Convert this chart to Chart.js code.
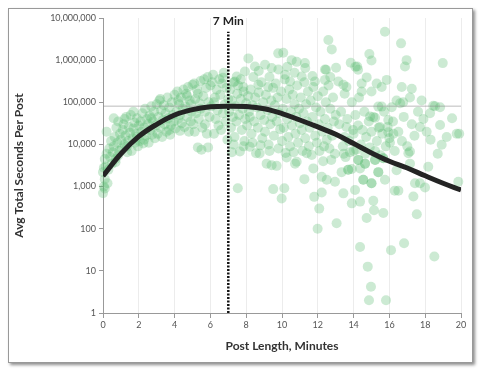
<!DOCTYPE html>
<html>
<head>
<meta charset="utf-8">
<script src="https://cdn.jsdelivr.net/npm/chart.js@4.4.1/dist/chart.umd.min.js"></script>
<style>
  body { margin: 0; background: #fff; }
  .frame {
    position: absolute; left: 8px; top: 8px; width: 463px; height: 353px;
    border: 1px solid #999; background: #fff;
    box-shadow: 2px 2px 3px rgba(0,0,0,0.45);
  }
  canvas { position: absolute; left: 0; top: 0; }
</style>
</head>
<body>
<div class="frame"></div>
<canvas id="postChart" width="484" height="371"></canvas>
<script>
// [minutes, avg total seconds]
const postPoints = [
  [0.0,700],[0.05,1000],[0.1,1500],[0.0,2200],[0.15,3000],[0.1,4500],[0.2,6000],[0.05,2800],[0.25,1200],[0.3,2500],[0.35,8000],[0.4,5000],[0.45,12000],[0.2,20000],[0.5,3500],[0.1,900],
  [0.55,6500],[0.6,9000],[0.65,15000],[0.7,4500],[0.75,25000],[0.8,11000],[0.85,35000],[0.9,7000],[0.95,18000],[0.6,42000],[0.7,3800],[1.0,13000],[0.85,5500],
  [1.05,8000],[1.1,22000],[1.15,30000],[1.2,10000],[1.25,16000],[1.3,45000],[1.35,6500],[1.4,12000],[1.45,26000],[1.5,19000],[1.2,40000],[1.35,9000],
  [1.55,50000],[1.6,7000],[1.65,14000],[1.7,24000],[1.75,33000],[1.8,11000],[1.85,18000],[1.9,42000],[1.95,9000],[2.0,28000],[1.7,60000],[1.9,15000],
  [2.05,12000],[2.1,35000],[2.15,20000],[2.2,55000],[2.25,10500],[2.3,25000],[2.35,70000],[2.4,16000],[2.45,40000],[2.5,30000],[2.3,13000],
  [2.55,11000],[2.6,48000],[2.65,22000],[2.7,80000],[2.75,17000],[2.8,35000],[2.85,60000],[2.9,14000],[2.95,28000],[3.0,90000],[2.7,42000],
  [3.05,18000],[3.1,45000],[3.15,110000],[3.2,25000],[3.25,65000],[3.3,15000],[3.35,38000],[3.4,85000],[3.45,30000],[3.5,55000],[3.2,120000],
  [3.55,20000],[3.6,130000],[3.65,42000],[3.7,75000],[3.75,17000],[3.8,28000],[3.85,100000],[3.9,50000],[3.95,35000],[4.0,150000],[3.7,22000],
  [4.05,24000],[4.1,60000],[4.15,180000],[4.2,40000],[4.25,90000],[4.3,21000],[4.35,130000],[4.4,32000],[4.45,70000],[4.5,200000],[4.3,50000],[4.2,110000],
  [4.55,26000],[4.6,80000],[4.65,160000],[4.7,45000],[4.75,230000],[4.8,20000],[4.85,110000],[4.9,35000],[4.95,60000],[5.0,260000],[4.7,140000],[4.9,90000],
  [5.05,30000],[5.1,280000],[5.12,20000],[5.15,120000],[5.2,55000],[5.25,200000],[5.3,8500],[5.35,40000],[5.4,95000],[5.45,320000],[5.5,7500],[5.3,160000],[5.45,70000],
  [5.55,25000],[5.6,140000],[5.65,350000],[5.7,60000],[5.75,220000],[5.8,18000],[5.85,400000],[5.87,8500],[5.9,100000],[5.95,45000],[6.0,250000],[5.7,30000],
  [6.05,80000],[6.1,300000],[6.15,450000],[6.2,18000],[6.25,130000],[6.3,40000],[6.35,200000],[6.4,65000],[6.45,28000],[6.5,350000],[6.2,100000],
  [6.55,150000],[6.6,22000],[6.65,280000],[6.7,55000],[6.75,500000],[6.8,90000],[6.85,35000],[6.9,220000],[6.95,13000],[7.0,120000],[6.7,380000],
  [7.05,60000],[7.1,200000],[7.15,25000],[7.2,110000],[7.25,45000],[7.3,300000],[7.35,15000],[7.4,80000],[7.45,35000],[7.5,160000],[7.53,910],[7.3,10000],[7.2,6500],
  [7.55,250000],[7.6,50000],[7.65,6800],[7.7,120000],[7.75,22000],[7.8,70000],[7.85,180000],[7.9,12000],[7.95,40000],[8.0,95000],[7.7,350000],[7.85,9000],
  [8.05,28000],[8.1,140000],[8.15,60000],[8.2,8800],[8.25,200000],[8.3,18000],[8.35,85000],[8.4,400000],[8.45,35000],[8.5,130000],[8.2,45000],[8.35,11000],
  [8.55,6200],[8.6,75000],[8.65,25000],[8.7,170000],[8.75,6100],[8.8,50000],[8.85,300000],[8.9,14000],[8.95,100000],[9.0,38000],[8.7,550000],[8.8,9500],
  [9.05,20000],[9.14,3500],[9.1,150000],[9.2,65000],[9.25,10000],[9.3,400000],[9.35,30000],[9.42,3200],[9.4,110000],[9.45,45000],[9.51,870],[9.5,220000],[9.3,7000],
  [9.55,16000],[9.6,85000],[9.7,3100],[9.65,280000],[9.7,35000],[9.75,130000],[9.8,8000],[9.85,55000],[9.9,23000],[9.98,520],[9.95,180000],[10.0,12000],[9.8,600000],
  [10.05,70000],[10.13,910],[10.1,25000],[10.15,350000],[10.2,6300],[10.26,4900],[10.25,120000],[10.3,40000],[10.35,15000],[10.4,200000],[10.45,9000],[10.5,60000],[10.3,700000],
  [10.55,28000],[10.6,150000],[10.65,6500],[10.73,3500],[10.7,90000],[10.75,18000],[10.82,3900],[10.8,45000],[10.85,250000],[10.9,11000],[10.95,70000],[11.0,32000],[10.7,500000],
  [11.05,130000],[11.1,22000],[11.15,7000],[11.25,1500],[11.2,55000],[11.25,300000],[11.3,14000],[11.38,6200],[11.35,90000],[11.4,35000],[11.45,180000],[11.5,9000],[11.3,650000],
  [11.55,25000],[11.6,110000],[11.66,5600],[11.75,2700],[11.7,45000],[11.75,230000],[11.8,570],[11.85,16000],[11.9,75000],[11.95,11000],[11.99,100],[12.0,140000],[11.7,420000],
  [12.05,30000],[12.08,300],[12.1,7000],[12.15,60000],[12.22,720],[12.22,1700],[12.25,20000],[12.3,180000],[12.35,9000],[12.4,40000],[12.45,100000],[12.5,1450],[12.5,13000],[12.3,4000],
  [12.55,25000],[12.6,250000],[12.65,8000],[12.7,70000],[12.75,4300],[12.8,16000],[12.85,130000],[12.9,35000],[12.96,1300],[12.95,6000],[13.0,50000],[12.7,400000],
  // upper outliers
  [8.12,1100000],[9.79,1450000],[10.07,1500000],[10.54,1000000],[10.82,910000],[11.28,850000],[8.49,710000],[9.05,780000],[9.42,650000],[7.93,540000],[7.47,410000],
  [10.17,450000],[11.1,410000],[11.84,310000],[12.4,340000],[10.45,310000],[7.37,310000],[7.84,230000],[8.68,260000],[9.23,230000],
  [12.59,3000000],[12.78,1800000],[13.84,870000],[13.02,660000],[12.46,590000],[12.4,600000],
  // right tail
  [13.05,135],[13.33,2200],[13.43,690],[13.6,230000],[13.5,160000],[13.7,2500],[13.9,400],[13.5,15000],[13.6,26000],[13.97,22000],
  [14.08,830],[14.2,710000],[14.25,590000],[14.26,4300],[14.36,440],[14.36,37],[14.45,180000],[14.54,1450],[14.64,3500],[14.73,390000],[14.73,180],
  [14.79,12.6],[14.88,1400000],[14.86,2],[14.97,4.2],[15.0,980000],[15.0,1200],[15.1,460],[15.14,275],[15.2,4300],
  [15.29,280000],[15.38,2200],[15.57,230000],[15.57,79000],[15.66,4700],[15.66,235],[15.75,4700000],[15.75,1450],[15.81,2],[15.85,340000],
  [16.03,11000],[16.09,31],[16.3,800],[16.4,2450],[16.4,110000],[16.5,800],[16.6,95000],[16.65,2500000],[16.69,230000],[16.82,45],[16.87,710000],[16.96,1000000],
  [17.06,6200],[17.15,6800],[17.15,3500],[17.25,210000],[17.25,30000],[17.34,580],[17.43,1200],[17.53,220],[17.71,1200],[17.71,26000],[17.8,110000],[17.99,950],[18.08,20000],
  [18.17,2950],[18.27,55000],[18.51,22],[18.55,81000],[18.83,76000],[18.83,29000],[18.92,9800],[18.98,850000],[19.76,18000],[19.85,1300],
  [13.2,30000],[13.3,60000],[13.4,9000],[13.55,5000],[13.65,40000],[13.75,12000],[13.8,6500],[13.9,100000],[14.0,18000],[14.1,50000],[14.15,7500],
  [14.25,28000],[14.3,130000],[14.4,10000],[14.5,22000],[14.6,60000],[14.65,6000],[14.7,15000],[14.85,35000],[14.9,8500],[15.0,20000],[15.1,45000],
  [15.2,7000],[15.3,12000],[15.4,25000],[15.5,5500],[15.6,18000],[15.7,60000],[15.8,9000],[15.9,26000],[16.0,14000],[16.2,35000],[16.3,7000],
  [16.5,20000],[16.7,12000],[16.8,45000],[17.0,9000],[17.4,16000],[17.6,60000],[17.9,40000],[18.3,13000],[18.7,6000],[19.2,15000],[19.5,42000],[19.9,18000],
  [14.45,280000],[15.0,180000],[16.77,100000],[17.15,130000],[18.45,83000],[15.38,79000],[16.13,76000],[14.92,46000],[15.2,43000],[15.94,38000],
  [15.47,26000],[15.94,19500],[16.22,18000],[13.15,310000],[13.43,260000],[14.1,700000],
  [13.9,2600],[14.36,2700],[14.54,1450],[15.0,1200],[15.38,2200],[13.7,2500],[14.26,4300],[14.64,3500],[15.2,4300],[15.66,4700],[13.45,6000],[14.0,7000]
];

// fitted trend line
const curveMinutes = [0, 1, 2, 3, 4, 5, 6, 7, 8, 9, 10, 11, 12, 13, 14, 15, 16, 17, 18, 19, 20];
const curveSeconds = [1780, 6000, 15500, 30000, 50000, 67000, 78000, 81000, 79000, 70000, 54000, 38000, 26000, 17400, 10500, 6300, 4000, 2750, 1800, 1200, 830];

const peakMinute = 7;
const peakSeconds = 81000;
const peakLabel = '7 Min';
const yTickValues = [1, 10, 100, 1000, 10000, 100000, 1000000, 10000000];

const tickFont = { family: 'Lato', size: 9 };
const titleFont = { family: 'Lato', size: 12, weight: 'bold' };

const peakLabelPlugin = {
  id: 'peakLabel',
  afterDatasetsDraw(chart) {
    const c = chart.ctx;
    const x = chart.scales.x.getPixelForValue(peakMinute);
    c.save();
    c.font = 'bold 12px Lato';
    c.fillStyle = '#222';
    c.textAlign = 'center';
    c.textBaseline = 'middle';
    c.fillText(peakLabel, x, 21);
    c.restore();
  }
};

const ctx = document.getElementById('postChart').getContext('2d');
const postChart = new Chart(ctx, {
  type: 'scatter',
  data: {
    datasets: [
      {
        type: 'line',
        data: curveMinutes.map((m, i) => ({ x: m, y: curveSeconds[i] })),
        borderColor: '#242424',
        borderWidth: 5,
        pointRadius: 0,
        tension: 0.4,
        fill: false
      },
      {
        type: 'line',
        data: [{ x: peakMinute, y: 1 }, { x: peakMinute, y: 4700000 }],
        borderColor: '#111',
        borderWidth: 2.5,
        borderDash: [2, 1.5],
        pointRadius: 0
      },
      {
        type: 'line',
        data: [{ x: 0, y: peakSeconds }, { x: 20, y: peakSeconds }],
        borderColor: 'rgba(140,140,140,0.6)',
        borderWidth: 1,
        pointRadius: 0
      },
      {
        data: postPoints.map(p => ({ x: p[0], y: p[1] })),
        backgroundColor: 'rgba(85,185,110,0.3)',
        borderWidth: 0,
        pointRadius: 5,
        pointHoverRadius: 5,
        clip: false
      }
    ]
  },
  options: {
    responsive: false,
    animation: false,
    events: [],
    layout: { padding: { left: 0, right: 23, top: 18, bottom: 0 } },
    plugins: { legend: { display: false }, tooltip: { enabled: false } },
    scales: {
      x: {
        type: 'linear',
        min: 0,
        max: 20,
        ticks: { stepSize: 2, color: '#555', font: tickFont, padding: 2 },
        grid: { color: '#ececec', tickLength: 5, tickColor: '#999' },
        border: { color: '#999' },
        title: { display: true, text: 'Post Length, Minutes', color: '#333', font: titleFont, padding: { top: 4, bottom: 18 } },
        afterFit(scale) { scale.height = 58; }
      },
      y: {
        type: 'logarithmic',
        min: 1,
        max: 10000000,
        afterBuildTicks(scale) { scale.ticks = yTickValues.map(v => ({ value: v })); },
        ticks: {
          color: '#555',
          font: tickFont,
          padding: 3,
          callback: v => Number(v).toLocaleString('en-US')
        },
        grid: { drawOnChartArea: false, tickLength: 4, tickColor: '#999' },
        border: { color: '#999' },
        title: { display: true, text: 'Avg Total Seconds Per Post', color: '#333', font: titleFont, padding: { top: 12, bottom: 4 } },
        afterFit(scale) { scale.width = 103; }
      }
    }
  },
  plugins: [peakLabelPlugin]
});
</script>
</body>
</html>
